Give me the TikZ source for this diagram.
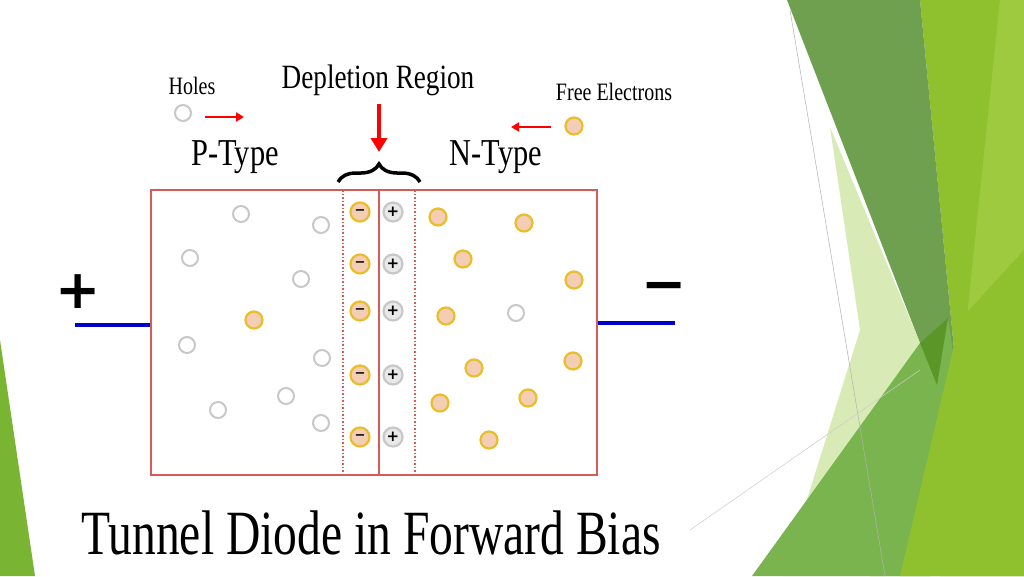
\documentclass[tikz,border=0pt]{standalone}
\usepackage{fontspec}
\setmainfont{Liberation Serif}
\newfontfamily\djs{DejaVu Sans}
\usetikzlibrary{decorations.pathreplacing,arrows.meta}
\definecolor{rbox}{HTML}{D65A55}
\definecolor{hole}{HTML}{C8C8C8}
\definecolor{eyel}{HTML}{E8BE2A}
\definecolor{efill}{HTML}{F3CDB4}
\tikzset{
 holec/.style={circle,draw=hole,line width=2pt,fill=white,minimum size=16pt,inner sep=0pt},
 elec/.style={circle,draw=eyel,line width=2.2pt,fill=efill,minimum size=17pt,inner sep=0pt},
 ionm/.style={circle,draw=eyel,line width=2.2pt,fill=efill,minimum size=19pt,inner sep=0pt,font=\djs\bfseries\fontsize{13}{13}\selectfont},
 ionp/.style={circle,draw=hole,line width=2.2pt,fill=hole!40,minimum size=19pt,inner sep=0pt,font=\djs\bfseries\fontsize{15}{15}\selectfont},
 lbl/.style={inner sep=0pt,xscale=0.8},
 redarr/.style={red,line width=2.2pt,-{Triangle[length=8pt,width=9pt]}}
}
\begin{document}
\begin{tikzpicture}[x=1pt,y=-1pt]
\useasboundingbox (0,0) rectangle (1024,576);
\fill[white] (0,0) rectangle (1024,576);
% green decor
\fill[color={rgb,255:red,143;green,193;blue,46}] (920,0)--(1024,0)--(1024,576)--(870,576)--(957,380)--cycle;
\fill[color={rgb,255:red,158;green,202;blue,64}] (1000,0)--(1024,0)--(1024,576)--(940,576)--(975,240)--cycle;
\fill[color={rgb,255:red,111;green,160;blue,80}] (787,0)--(920,0)--(957,380)--(920,343)--cycle;
\fill[color={rgb,255:red,210;green,232;blue,170},opacity=0.85] (830,127)--(920,343)--(885,576)--(783,576)--(860,330)--cycle;
\fill[color={rgb,255:red,121;green,180;blue,79}] (920,343)--(948,318)--(957,380)--(930,576)--(752,576)--cycle;
\fill[color={rgb,255:red,90;green,150;blue,40}] (920,343)--(948,318)--(937,385)--cycle;
\fill[color={rgb,255:red,143;green,193;blue,46}] (960,320)--(1024,250)--(1024,576)--(900,576)--cycle;
\fill[color={rgb,255:red,121;green,180;blue,50}] (0,340)--(35,576)--(0,576)--cycle;
\draw[gray!60,line width=0.5pt] (790,10)--(885,576);
\draw[gray!40,line width=0.5pt] (690,530)--(920,370);
% box
\node[draw=rbox,line width=2pt,minimum width=446pt,minimum height=285pt,inner sep=0pt] (box) at (374,332.5) {};
\draw[rbox,line width=1.5pt,dotted] (343,190)--(343,475);
\draw[rbox,line width=1.5pt,dotted] (415,190)--(415,475);
\draw[rbox,line width=2pt] (379,190)--(379,475);
\coordinate (wl) at (75,325); \coordinate (wr) at (675,323);
\draw[blue!80!black,line width=4pt] (wl)--(box.west|-wl);
\draw[blue!80!black,line width=4pt] (box.east|-wr)--(wr);
\node[font=\djs\bfseries\fontsize{54}{54}\selectfont] (plus) at (78,292) {+};
\node[font=\djs\bfseries\fontsize{54}{54}\selectfont] (minus) at (664,292) {−};
% holes
\foreach \p [count=\i] in {(183,113),(241,214),(321,225),(190,258),(301,279),(187,345),(322,358),(286,396),(218,410),(321,423),(516,313)}
  \node[holec] (h\i) at \p {};
\foreach \p [count=\i] in {(574,126),(254,320),(438,217),(524,223),(463,259),(574,280),(446,316),(474,368),(573,361),(440,403),(528,398),(489,440)}
  \node[elec] (e\i) at \p {};
\foreach \y [count=\i] in {212,264,311,375,437}{
  \node[ionm] (m\i) at (360,\y) {−};
  \node[ionp] (p\i) at (393,\y) {+};
}
% labels
\node[lbl,font=\fontsize{25}{25}\selectfont] (holes) at (192,86) {Holes};
\node[lbl,font=\fontsize{34}{34}\selectfont] (dep) at (378,80) {Depletion Region};
\node[lbl,font=\fontsize{25}{25}\selectfont] (free) at (614,92) {Free Electrons};
\node[lbl,font=\fontsize{38}{38}\selectfont] (pt) at (235,157) {P-Type};
\node[lbl,font=\fontsize{38}{38}\selectfont] (nt) at (496,157) {N-Type};
\node[inner sep=0pt,xscale=0.755,font=\fontsize{63}{63}\selectfont] (title) at (371,533) {Tunnel Diode in Forward Bias};
\coordinate (a1s) at (205,117); \coordinate (a1e) at (244,117);
\coordinate (a2s) at (551,127); \coordinate (a2e) at (511,127);
\draw[redarr] (a1s)--(a1e);
\draw[redarr] (a2s)--(a2e);
\coordinate (ds) at (379,104); \coordinate (de) at (379,152);
\draw[red,line width=4pt,-{Triangle[length=14pt,width=16pt]}] (ds)--(de);
\coordinate (bl) at (338,182); \coordinate (br) at (420,182);
\draw[line width=3.5pt,decorate,decoration={brace,amplitude=18pt,aspect=0.5}] (bl)--(br);
\end{tikzpicture}
\end{document}
